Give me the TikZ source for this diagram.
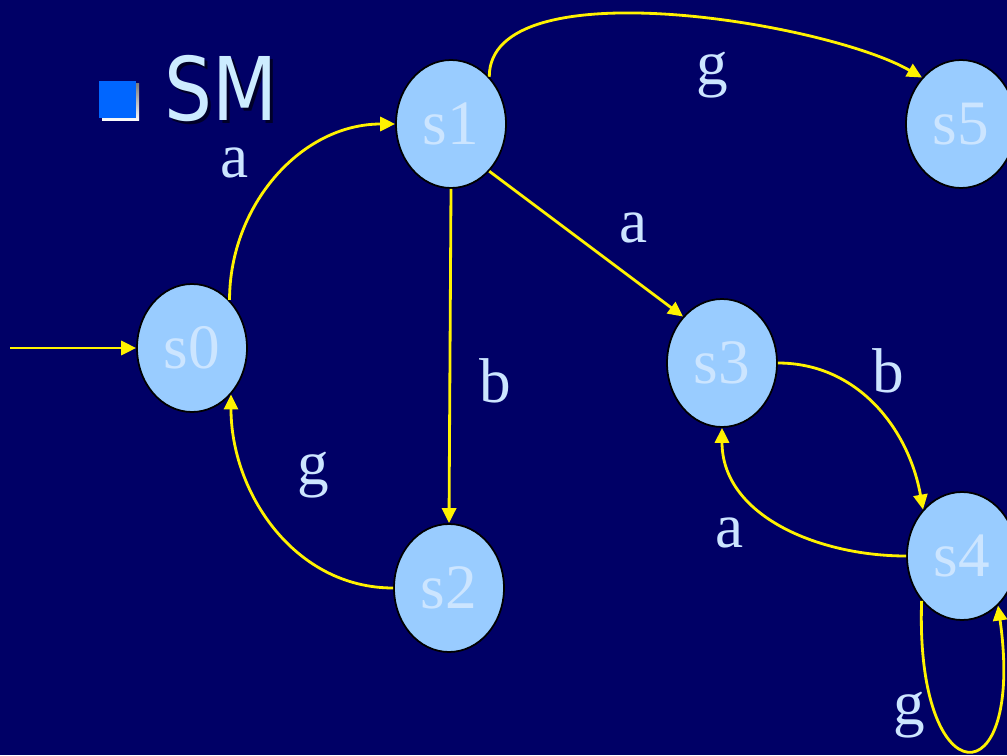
\documentclass[tikz,border=0pt]{standalone}
\usepackage{fontspec}
\setmainfont{Liberation Serif}
\newfontfamily\titlefont{DejaVu Sans}
\usetikzlibrary{arrows.meta,shapes.geometric}
\definecolor{navy}{RGB}{0,0,102}
\definecolor{statefill}{RGB}{153,204,255}
\definecolor{statetext}{RGB}{204,229,255}
\definecolor{labeltext}{RGB}{204,229,255}
\definecolor{bulletblue}{RGB}{0,102,255}
\definecolor{titletext}{RGB}{204,236,255}
\definecolor{shade}{RGB}{0,0,40}
\tikzset{
  state/.style={ellipse, draw=black, line width=1pt, fill=statefill, text=statetext,
    minimum width=2.2cm, minimum height=2.56cm, inner sep=0pt},
  lbl/.style={text=labeltext},
  title/.style={anchor=base west, inner sep=0pt, font=\titlefont\fontsize{50}{50}\selectfont},
  edge/.style={->, draw=yellow, line width=1.6pt}
}
\begin{document}
\begin{tikzpicture}[x=0.02cm,y=0.02cm,>={Triangle[length=8.5pt,width=8pt]},
  every node/.style={font=\fontsize{36}{36}\selectfont}]
                \fill[navy] (0,0) rectangle (1007,755);
                \useasboundingbox (0,0) rectangle (1007,755);

                % title
                \fill[shade] (102,634) rectangle (139,671);
                \fill[bulletblue] (99,637) rectangle (136,674);
                \node[title, text=shade] (smshadow) at (167,631) {\scalebox{0.86}[1]{SM}};
                \node[title, text=titletext] (sm) at (164,634) {\scalebox{0.86}[1]{SM}};

                % states
                \node[state] (s0) at (192,407) {s0};
                \node[state] (s1) at (451,631) {s1};
                \node[state] (s2) at (449,167) {s2};
                \node[state] (s3) at (722,392) {s3};
                \node[state] (s4) at (962,199) {s4};
                \node[state] (s5) at (961,631) {s5};
                \coordinate (in) at (10,407);

                % transitions
                \draw[edge] (in) -- (s0);
                \draw[edge] (s0.52) to[out=90,in=180] (s1.west);
                \draw[edge] (s1.51) to[out=90,in=150,looseness=0.65] (s5.130);
                \draw[edge] (s1.-51) -- (s3.130);
                \draw[edge] (s1.south) -- (s2.north);
                \draw[edge] (s2.west) to[out=180,in=-90] (s0.-50);
                \draw[edge] (s3.east) to[out=0,in=100] (s4.130);
                \draw[edge] (s4.west) to[out=180,in=-90] (s3.south);
                \draw[edge] (s4.-132) to[out=-92,in=-82,looseness=6.6] (s4.-54);

                % labels
                \node[lbl] (la1) at (235,592) {a};
                \node[lbl] (lg1) at (712,680) {g};
                \node[lbl] (la2) at (634,527) {a};
                \node[lbl] (lb1) at (495,374) {b};
                \node[lbl] (lg2) at (313,280) {g};
                \node[lbl] (lb2) at (888,384) {b};
                \node[lbl] (la3) at (730,222) {a};
                \node[lbl] (lg3) at (909,40) {g};
\end{tikzpicture}
\end{document}
